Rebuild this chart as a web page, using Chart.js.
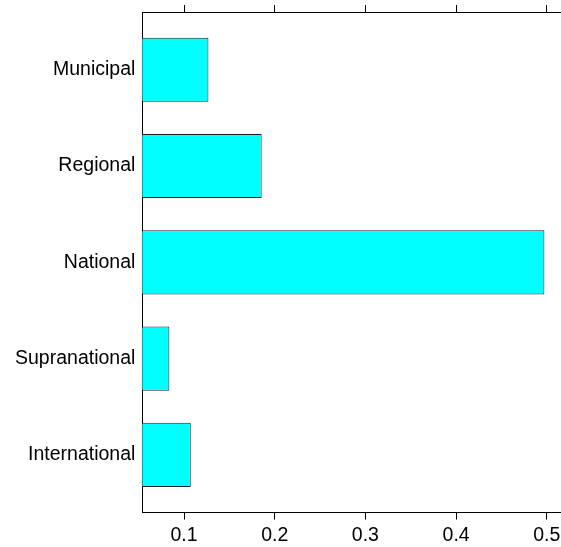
<!DOCTYPE html>
<html>
<head>
<meta charset="utf-8">
<script src="https://cdn.jsdelivr.net/npm/chart.js@4/dist/chart.umd.min.js"></script>
<style>
  html, body { margin: 0; padding: 0; background: #fff; overflow: hidden; }
  canvas { display: block; }
</style>
</head>
<body>
<canvas id="c" width="561" height="547"></canvas>
<script>
// Levels listed bottom to top (first level sits at the bottom of the panel)
const categories = ['International', 'Supranational', 'National', 'Regional', 'Municipal'];
const shares = [0.1074, 0.0838, 0.4974, 0.1856, 0.1269];
const xTicks = [0.1, 0.2, 0.3, 0.4, 0.5];
const xRange = [0.054, 0.5157];

const points = shares.map((v, i) => ({ x: v, y: i + 1 }));

const setTicks = (values) => (scale) => {
  scale.ticks = values.map(v => ({ value: v }));
};

// Labels sit well inside the panel, so no extra room is reserved at the edges
const noEdgePadding = (scale) => {
  scale.paddingTop = 0;
  scale.paddingBottom = 0;
  scale.paddingLeft = 0;
  scale.paddingRight = 0;
};

const labelFont = { family: 'Liberation Sans, Arial, sans-serif', size: 19.5 };

new Chart(document.getElementById('c'), {
  type: 'bar',
  data: {
    datasets: [{
      data: points,
      backgroundColor: '#00FFFF',
      borderColor: '#222222',
      borderWidth: 1,
      borderSkipped: false,
      categoryPercentage: 1,
      barPercentage: 2 / 3
    }]
  },
  options: {
    indexAxis: 'y',
    responsive: false,
    animation: false,
    layout: { padding: { left: 8, right: 0, top: 5, bottom: -4 } },
    plugins: { legend: { display: false }, tooltip: { enabled: false } },
    scales: {
      x: {
        type: 'linear',
        position: 'bottom',
        min: xRange[0],
        max: xRange[1],
        afterBuildTicks: setTicks(xTicks),
        afterFit: noEdgePadding,
        border: { display: true, color: '#000', width: 1 },
        grid: { drawOnChartArea: false, drawTicks: true, tickLength: 7, color: '#000' },
        ticks: {
          color: '#000',
          padding: 4,
          maxRotation: 0,
          font: labelFont,
          callback: v => String(v)
        }
      },
      xTop: {
        type: 'linear',
        position: 'top',
        min: xRange[0],
        max: xRange[1],
        afterBuildTicks: setTicks(xTicks),
        afterFit: noEdgePadding,
        border: { display: true, color: '#000', width: 1 },
        grid: { drawOnChartArea: false, drawTicks: true, tickLength: 7, color: '#000' },
        ticks: { display: false }
      },
      y: {
        type: 'linear',
        position: 'left',
        offset: false,
        min: 0.4,
        max: 5.6,
        afterBuildTicks: setTicks(categories.map((_, i) => i + 1)),
        afterFit: noEdgePadding,
        border: { display: true, color: '#000', width: 1 },
        grid: { drawOnChartArea: false, drawTicks: false },
        ticks: {
          color: '#000',
          padding: 7,
          font: labelFont,
          callback: v => categories[Math.round(v) - 1] || ''
        }
      }
    }
  }
});
</script>
</body>
</html>
